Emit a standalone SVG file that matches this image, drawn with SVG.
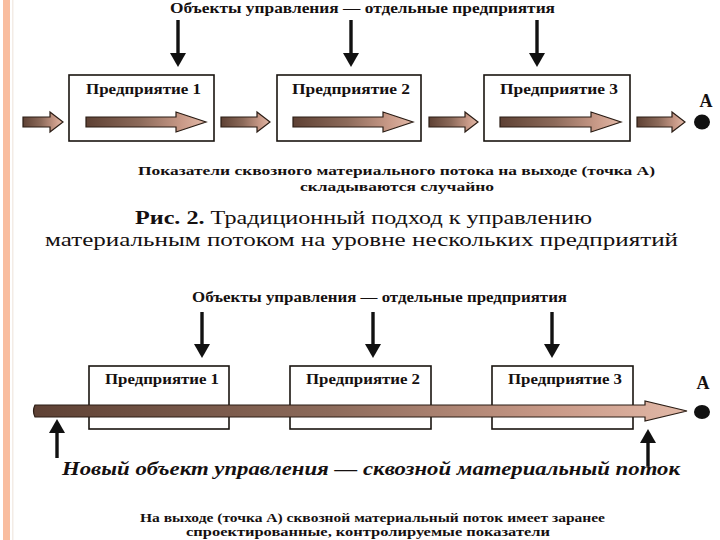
<svg xmlns="http://www.w3.org/2000/svg" width="720" height="540" viewBox="0 0 720 540">
<defs>
<linearGradient id="flow" x1="0" y1="0" x2="1" y2="0">
<stop offset="0" stop-color="#5e4134"/>
<stop offset="0.45" stop-color="#8c6a5a"/>
<stop offset="0.8" stop-color="#c99a88"/>
<stop offset="1" stop-color="#e2b9a8"/>
</linearGradient>
</defs>
<style>
.bg{fill:#ffffff}
.strip{fill:#f9bd9f}
.box{fill:#ffffff;stroke:#1a1410;stroke-width:1.6}
.lbl{font-family:"Liberation Serif","Times New Roman",serif;font-weight:bold;font-size:14px;fill:#151010}
.ttl{font-family:"Liberation Serif","Times New Roman",serif;font-weight:bold;font-size:15px;fill:#151010}
.pa{font-family:"Liberation Serif","Times New Roman",serif;font-weight:bold;font-size:18px;fill:#151010;text-anchor:middle}
.cap{font-family:"Liberation Serif","Times New Roman",serif;font-weight:bold;font-size:13px;fill:#151010}
.fig{font-family:"Liberation Serif","Times New Roman",serif;font-size:18px;fill:#151010}
.figb{font-weight:bold}
.ital{font-family:"Liberation Serif","Times New Roman",serif;font-weight:bold;font-style:italic;font-size:18px;fill:#151010}
.flow{fill:url(#flow);stroke:#2b1d15;stroke-width:1.2;stroke-linejoin:miter}
.ctl{fill:none;stroke:#111;stroke-width:3.4}
.head{fill:#111}
.pt{fill:#111}
</style>
<rect class="bg" x="0" y="0" width="720" height="540"/>
<rect class="strip" x="3" y="0" width="7" height="540"/>
<rect x="12" y="0" width="1.5" height="540" fill="#f3ece6"/>

<!-- ===== Diagram 1 ===== -->
<text class="ttl" x="170" y="13" textLength="385" lengthAdjust="spacingAndGlyphs">Объекты управления — отдельные предприятия</text>

<g id="d1-box1">
<rect class="box" x="69" y="75" width="145" height="66"/>
<text class="lbl" x="86" y="94" textLength="115" lengthAdjust="spacingAndGlyphs">Предприятие 1</text>
</g>
<g id="d1-box2">
<rect class="box" x="277" y="75" width="144" height="66"/>
<text class="lbl" x="292" y="94" textLength="118" lengthAdjust="spacingAndGlyphs">Предприятие 2</text>
</g>
<g id="d1-box3">
<rect class="box" x="484" y="75" width="146" height="66"/>
<text class="lbl" x="500" y="94" textLength="118" lengthAdjust="spacingAndGlyphs">Предприятие 3</text>
</g>
<g id="d1-pointA">
<text class="pa" x="706" y="107">А</text>
<ellipse class="pt" cx="702" cy="122" rx="8" ry="7.5"/>
</g>

<g id="d1-connectors">
<line class="ctl" x1="178" y1="20" x2="178" y2="54"/>
<path class="head" d="M170,53 L186,53 L178,67 Z"/>
<line class="ctl" x1="351" y1="20" x2="351" y2="54"/>
<path class="head" d="M343,53 L359,53 L351,67 Z"/>
<line class="ctl" x1="537" y1="20" x2="537" y2="54"/>
<path class="head" d="M529,53 L545,53 L537,67 Z"/>

<path class="flow" d="M23,117 L50,117 L50,112 L63,122 L50,132 L50,127 L23,127 Z"/>
<path class="flow" d="M86,117 L176,117 L176,112 L206,122 L176,132 L176,127 L86,127 Z"/>
<path class="flow" d="M221,117 L257,117 L257,112 L270,122 L257,132 L257,127 L221,127 Z"/>
<path class="flow" d="M293,117 L383,117 L383,112 L413,122 L383,132 L383,127 L293,127 Z"/>
<path class="flow" d="M429,117 L465,117 L465,112 L478,122 L465,132 L465,127 L429,127 Z"/>
<path class="flow" d="M500,117 L591,117 L591,112 L621,122 L591,132 L591,127 L500,127 Z"/>
<path class="flow" d="M637,117 L672,117 L672,112 L685,122 L672,132 L672,127 L637,127 Z"/>
</g>

<text class="cap" x="138" y="175" textLength="517" lengthAdjust="spacingAndGlyphs">Показатели сквозного материального потока на выходе (точка А)</text>
<text class="cap" x="300" y="191" textLength="194" lengthAdjust="spacingAndGlyphs">складываются случайно</text>

<text class="fig" x="135" y="224" textLength="457" lengthAdjust="spacingAndGlyphs"><tspan class="figb">Рис. 2.</tspan> Традиционный подход к управлению</text>
<text class="fig" x="45" y="246" textLength="633" lengthAdjust="spacingAndGlyphs">материальным потоком на уровне нескольких предприятий</text>

<!-- ===== Diagram 2 ===== -->
<text class="ttl" x="192" y="302" textLength="375" lengthAdjust="spacingAndGlyphs">Объекты управления — отдельные предприятия</text>

<g id="d2-box1">
<rect class="box" x="89" y="366" width="140" height="63"/>
<text class="lbl" x="105" y="384" textLength="114" lengthAdjust="spacingAndGlyphs">Предприятие 1</text>
</g>
<g id="d2-box2">
<rect class="box" x="290" y="366" width="141" height="63"/>
<text class="lbl" x="306" y="384" textLength="114" lengthAdjust="spacingAndGlyphs">Предприятие 2</text>
</g>
<g id="d2-box3">
<rect class="box" x="492" y="366" width="141" height="63"/>
<text class="lbl" x="508" y="384" textLength="114" lengthAdjust="spacingAndGlyphs">Предприятие 3</text>
</g>
<g id="d2-pointA">
<text class="pa" x="703" y="389">А</text>
<ellipse class="pt" cx="702" cy="412" rx="8" ry="7"/>
</g>

<g id="d2-connectors">
<line class="ctl" x1="202" y1="312" x2="202" y2="345"/>
<path class="head" d="M194,344 L210,344 L202,358 Z"/>
<line class="ctl" x1="373" y1="312" x2="373" y2="345"/>
<path class="head" d="M365,344 L381,344 L373,358 Z"/>
<line class="ctl" x1="552" y1="312" x2="552" y2="345"/>
<path class="head" d="M544,344 L560,344 L552,358 Z"/>

<path class="flow" d="M35,405 L645,405 L645,401 L687,411 L645,421 L645,417 L35,417 Q32,411 35,405 Z"/>

<line class="ctl" x1="57" y1="431" x2="57" y2="458"/>
<path class="head" d="M49,433 L65,433 L57,419 Z"/>
<line class="ctl" x1="648" y1="441" x2="648" y2="466"/>
<path class="head" d="M640,443 L656,443 L648,429 Z"/>
</g>

<text class="ital" x="62" y="475" textLength="618" lengthAdjust="spacingAndGlyphs">Новый объект управления — сквозной материальный поток</text>

<text class="cap" x="140" y="522" textLength="465" lengthAdjust="spacingAndGlyphs">На выходе (точка А) сквозной материальный поток имеет заранее</text>
<text class="cap" x="186" y="536" textLength="364" lengthAdjust="spacingAndGlyphs">спроектированные, контролируемые показатели</text>
</svg>
